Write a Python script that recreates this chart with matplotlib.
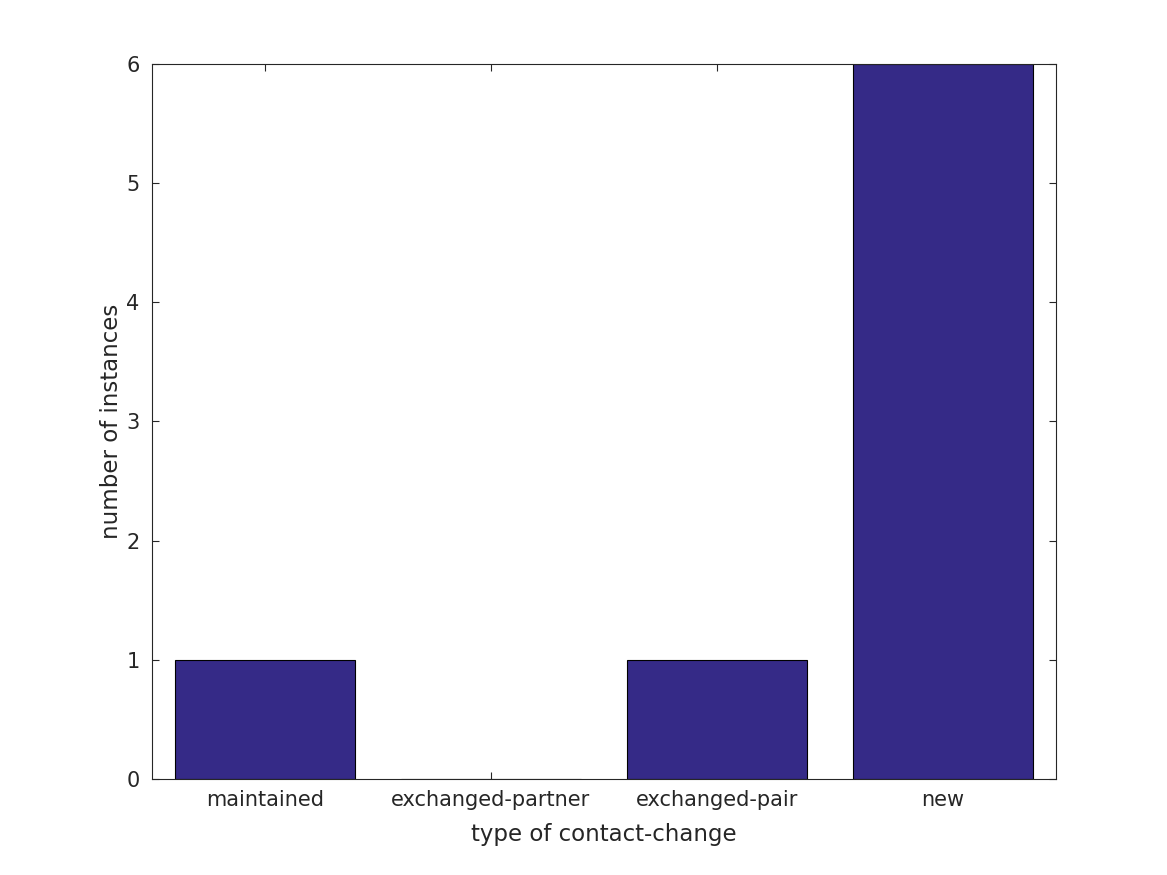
import matplotlib
matplotlib.use("Agg")
import matplotlib.pyplot as plt

categories = ["maintained", "exchanged-partner", "exchanged-pair", "new"]
counts = [1, 0, 1, 6]
yticks = [0, 1, 2, 3, 4, 5, 6]

plt.rcParams['font.family'] = ['DejaVu Sans']
tc = '#262626'
fig = plt.figure(figsize=(11.67, 8.75), dpi=100)
ax = fig.add_axes([152/1167, 1-779/875, (1056-152)/1167, (779-64)/875])
x = list(range(1, len(categories)+1))
ax.bar(x, counts, width=0.8, color='#352a87', edgecolor='black', linewidth=0.8, zorder=2)
ax.set_xlim(0.5, 4.5)
ax.set_ylim(0, 6)
ax.set_xticks(x)
ax.set_xticklabels(categories)
ax.set_yticks(yticks)
ax.tick_params(direction='in', top=True, right=True, length=5, width=0.8, labelsize=15, colors=tc, pad=8)
ax.tick_params(axis='y', pad=9)
for s in ax.spines.values():
    s.set_linewidth(0.8)
    s.set_color(tc)
ax.set_xlabel("type of contact-change", fontsize=16.5, color=tc, labelpad=9)
ax.set_ylabel("number of instances", fontsize=16.5, color=tc, labelpad=2)
fig.savefig("out.png", dpi=100)
